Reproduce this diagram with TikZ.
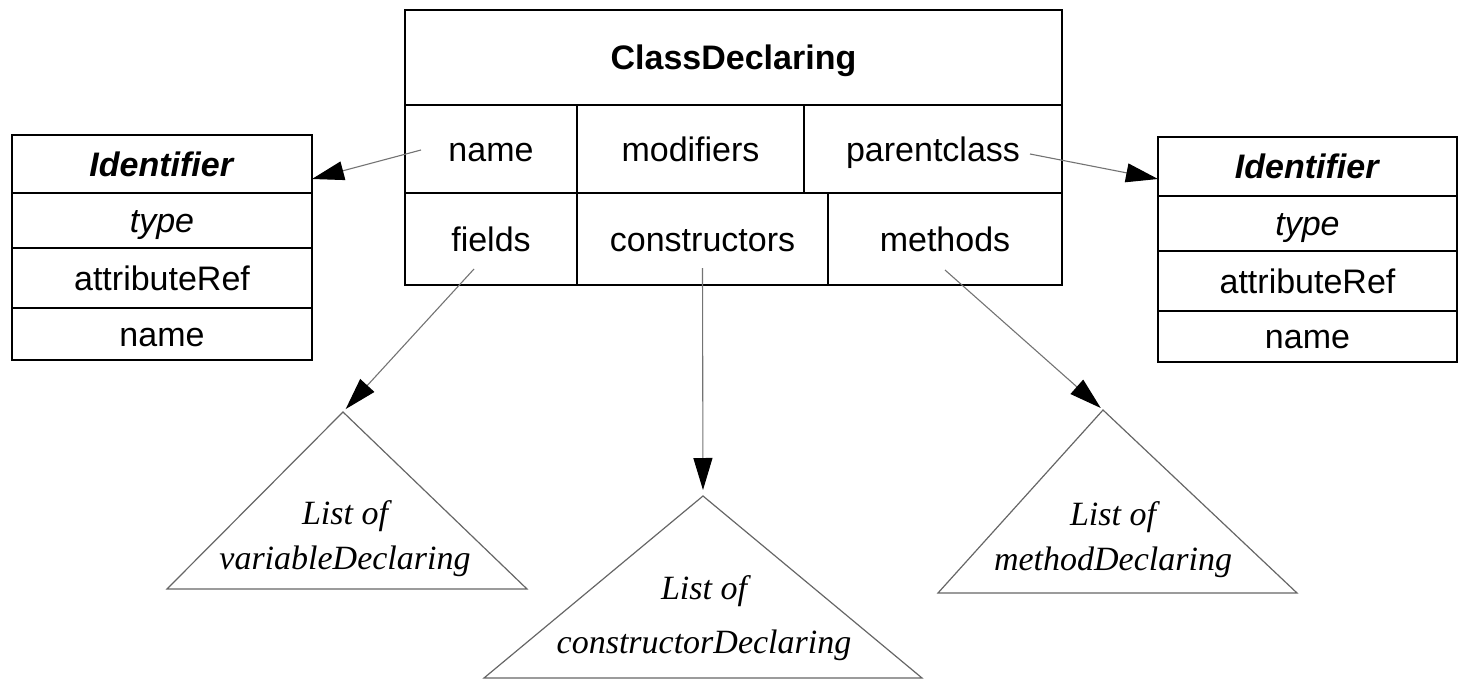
\documentclass[tikz,border=0pt]{standalone}
\usepackage{fontspec}
\setmainfont{Liberation Sans}
\newfontfamily\listfont{Liberation Serif}
\usetikzlibrary{arrows.meta,calc}
\begin{document}
\begin{tikzpicture}[x=1pt,y=-1pt,
  cell/.style={draw, line width=1.8pt, anchor=north west, inner sep=0pt, outer sep=0pt,
    text height=24pt, text depth=0pt, font=\fontsize{34}{40}\selectfont},
  conn/.style={draw=black!55, line width=1.1pt,
    -{Triangle[length=32pt,width=19pt,color=black,fill=black]}},
  tri/.style={draw=black!60, line width=1.2pt, line join=miter},
  listtext/.style={align=center, inner sep=0pt,
    font=\listfont\itshape\fontsize{34}{45}\selectfont}
]
\useasboundingbox (0,0) rectangle (1460,680);

% ClassDeclaring record
\node[cell, minimum width=657pt, minimum height=95pt] (cd) at (405,10) {\textbf{ClassDeclaring}};
\node[cell, minimum width=172pt, minimum height=88pt] (nm) at (405,105) {name};
\node[cell, minimum width=227pt, minimum height=88pt] (md) at (577,105) {modifiers};
\node[cell, minimum width=258pt, minimum height=88pt] (pc) at (804,105) {parentclass};
\node[cell, minimum width=172pt, minimum height=92pt] (fd) at (405,193) {fields};
\node[cell, minimum width=251pt, minimum height=92pt] (cs) at (577,193) {constructors};
\node[cell, minimum width=234pt, minimum height=92pt] (me) at (828,193) {methods};

% Identifier record (left)
\node[cell, minimum width=300pt, minimum height=58pt] (idLt) at (12,135) {\textbf{\itshape Identifier}};
\node[cell, minimum width=300pt, minimum height=55pt] (idLty) at (12,193) {\itshape type};
\node[cell, minimum width=300pt, minimum height=60pt] (idLat) at (12,248) {attributeRef};
\node[cell, minimum width=300pt, minimum height=52pt] (idLnm) at (12,308) {name};

% Identifier record (right)
\node[cell, minimum width=299pt, minimum height=59pt] (idRt) at (1158,137) {\textbf{\itshape Identifier}};
\node[cell, minimum width=299pt, minimum height=55pt] (idRty) at (1158,196) {\itshape type};
\node[cell, minimum width=299pt, minimum height=60pt] (idRat) at (1158,251) {attributeRef};
\node[cell, minimum width=299pt, minimum height=51pt] (idRnm) at (1158,311) {name};

% list triangles
\coordinate (apV) at (343,412);
\draw[tri] (apV) -- (527,589) -- (167,589) -- cycle;
\node[listtext] (lv) at (345,539) {List of\\variableDeclaring};

\coordinate (apC) at (703,496);
\draw[tri] (apC) -- (922,678) -- (484,678) -- cycle;
\node[listtext] (lc) at (704,618) {List of\\[9pt]constructorDeclaring};

\coordinate (apM) at (1103,410);
\draw[tri] (apM) -- (1297,593) -- (938,593) -- cycle;
\node[listtext] (lm) at (1113,540) {List of\\methodDeclaring};

% references
\draw[conn] ($(nm.west)+(16,1)$) -- ($(idLt.east)+(0,15)$);
\draw[conn] ($(pc.east)+(-32,5)$) -- ($(idRt.west)+(0,12.5)$);
\draw[conn, shorten >=4pt] ($(fd.south)+(-17,-16)$) -- (apV);
\draw[conn, shorten >=6pt] ($(cs.south)+(0,-17)$) -- (apC);
\draw[conn, shorten >=3pt] ($(me.south)+(0,-15)$) -- (apM);
\end{tikzpicture}
\end{document}
